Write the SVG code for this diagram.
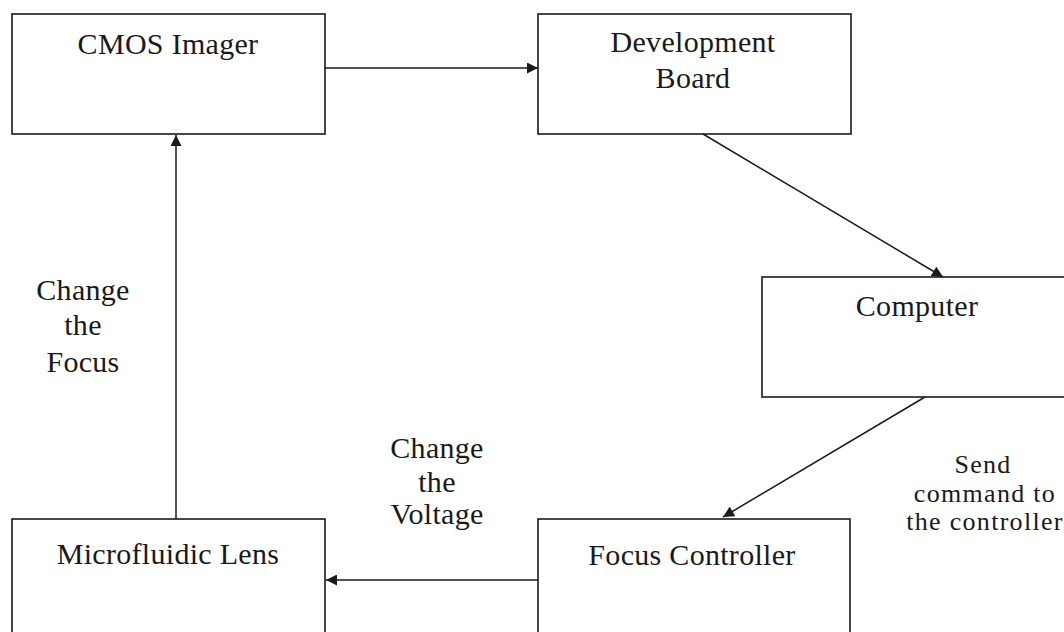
<svg xmlns="http://www.w3.org/2000/svg" width="1064" height="632" viewBox="0 0 1064 632">
<style>
.box{fill:#fff;stroke:#1a1a1a;stroke-width:1.6}
.t{font-family:"Liberation Serif","Times New Roman",serif;font-size:30px;fill:#1a1a1a;text-anchor:middle;letter-spacing:0.3px}
.s{font-size:26px;letter-spacing:1.3px}
.c{stroke:#1a1a1a;stroke-width:1.5;fill:none;marker-end:url(#ah)}
</style>
<defs>
<marker id="ah" viewBox="0 0 10 10" refX="10" refY="5" markerWidth="12" markerHeight="11" markerUnits="userSpaceOnUse" orient="auto">
<path d="M0,0 L10,5 L0,10 z" fill="#1a1a1a"/>
</marker>
</defs>
<rect width="1064" height="632" fill="#fff"/>
<g id="connectors">
<line class="c" x1="325" y1="68" x2="538" y2="68"/>
<line class="c" x1="703" y1="134" x2="943" y2="277"/>
<line class="c" x1="925" y1="397" x2="723" y2="517"/>
<line class="c" x1="538" y1="580" x2="326" y2="580"/>
<line class="c" x1="176" y1="519" x2="176" y2="135"/>
</g>
<g id="cmos">
<rect class="box" x="12" y="14" width="313" height="120"/>
<text class="t" x="168" y="54">CMOS Imager</text>
</g>
<g id="devboard">
<rect class="box" x="538" y="14" width="313" height="120"/>
<text class="t" x="693" y="52">Development</text>
<text class="t" x="693" y="88">Board</text>
</g>
<g id="computer">
<rect class="box" x="762" y="277" width="320" height="120"/>
<text class="t" x="917" y="316">Computer</text>
</g>
<g id="focuscontroller">
<rect class="box" x="538" y="519" width="312" height="130"/>
<text class="t" x="692" y="565">Focus Controller</text>
</g>
<g id="lens">
<rect class="box" x="12" y="519" width="313" height="130"/>
<text class="t" x="168" y="564">Microfluidic Lens</text>
</g>
<g id="labels">
<text class="t" x="83" y="300">Change</text>
<text class="t" x="83" y="335">the</text>
<text class="t" x="83" y="372">Focus</text>
<text class="t" x="437" y="458">Change</text>
<text class="t" x="437" y="492">the</text>
<text class="t" x="437" y="524">Voltage</text>
<text class="t s" x="983" y="473">Send</text>
<text class="t s" x="985" y="502">command to</text>
<text class="t s" x="985" y="530">the controller</text>
</g>
</svg>
